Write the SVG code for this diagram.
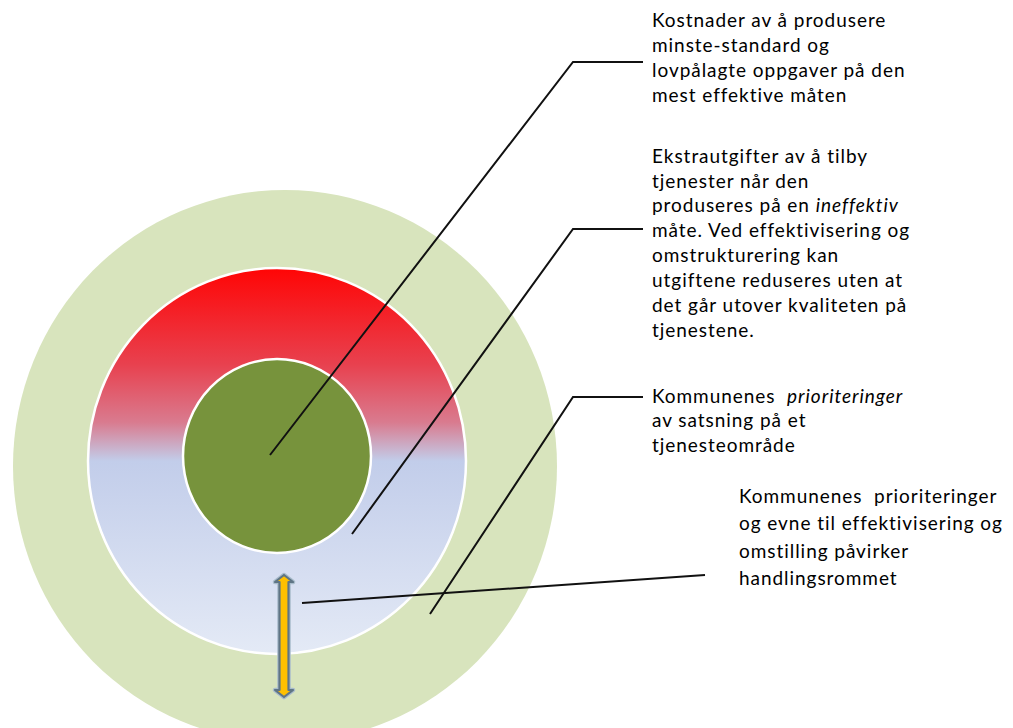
<svg xmlns="http://www.w3.org/2000/svg" width="1013" height="728" viewBox="0 0 1013 728">
<defs>
<linearGradient id="midGrad" x1="0" y1="0" x2="0" y2="1">
<stop offset="0" stop-color="#ff0505"/>
<stop offset="0.25" stop-color="#e8414f"/>
<stop offset="0.4" stop-color="#d97b8f"/>
<stop offset="0.5" stop-color="#c2cdea"/>
<stop offset="1" stop-color="#e4eaf6"/>
</linearGradient>
<style>
.lbl{font-family:"Lato","Liberation Sans",sans-serif;font-size:19px;letter-spacing:0.95px;fill:#000}
.conn{fill:none;stroke:#111;stroke-width:2;stroke-linejoin:miter}
</style>
</defs>
<g id="outer-ring"><ellipse cx="285" cy="466" rx="272" ry="276" fill="#d8e4bd"/></g>
<g id="middle-ring"><ellipse cx="277" cy="461" rx="189" ry="193" fill="url(#midGrad)" stroke="#ffffff" stroke-width="2.5"/></g>
<g id="inner-core"><ellipse cx="277" cy="456" rx="94" ry="97" fill="#77933c" stroke="#ffffff" stroke-width="2.5"/></g>
<g id="connectors">
<polyline class="conn" points="270,455 573,62 643,62"/>
<polyline class="conn" points="352,534 573,229 643,229"/>
<polyline class="conn" points="430,614 573,397 643,397"/>
<line class="conn" x1="302" y1="603" x2="705" y2="575" stroke-width="2.5"/>
</g>
<g id="arrow">
<polygon points="284,575 293,582 288.5,582 288.5,690 293,690 284,697 275,690 279.5,690 279.5,582 275,582" fill="none" stroke="#a9bccb" stroke-width="4.5" stroke-linejoin="round"/>
<polygon points="284,575 293,582 288.5,582 288.5,690 293,690 284,697 275,690 279.5,690 279.5,582 275,582" fill="#ffc000" stroke="#5f7585" stroke-width="2.2" stroke-linejoin="round"/>
</g>
<g id="label-core">
<text class="lbl" x="652" y="27">Kostnader av å produsere</text>
<text class="lbl" x="652" y="52">minste-standard og</text>
<text class="lbl" x="652" y="77">lovpålagte oppgaver på den</text>
<text class="lbl" x="652" y="102">mest effektive måten</text>
</g>
<g id="label-middle">
<text class="lbl" x="652" y="163">Ekstrautgifter av å tilby</text>
<text class="lbl" x="652" y="187.5">tjenester når den</text>
<text class="lbl" x="652" y="212">produseres på en <tspan font-style="italic">ineffektiv</tspan></text>
<text class="lbl" x="652" y="237">måte. Ved effektivisering og</text>
<text class="lbl" x="652" y="262">omstrukturering kan</text>
<text class="lbl" x="652" y="287">utgiftene reduseres uten at</text>
<text class="lbl" x="652" y="312">det går utover kvaliteten på</text>
<text class="lbl" x="652" y="337">tjenestene.</text>
</g>
<g id="label-outer">
<text class="lbl" x="652" y="403" xml:space="preserve">Kommunenes  <tspan font-style="italic">prioriteringer</tspan></text>
<text class="lbl" x="652" y="427">av satsning på et</text>
<text class="lbl" x="652" y="452">tjenesteområde</text>
</g>
<g id="label-arrow">
<text class="lbl" x="739" y="503" xml:space="preserve">Kommunenes  prioriteringer</text>
<text class="lbl" x="739" y="530">og evne til effektivisering og</text>
<text class="lbl" x="739" y="558">omstilling påvirker</text>
<text class="lbl" x="739" y="585">handlingsrommet</text>
</g>
</svg>
